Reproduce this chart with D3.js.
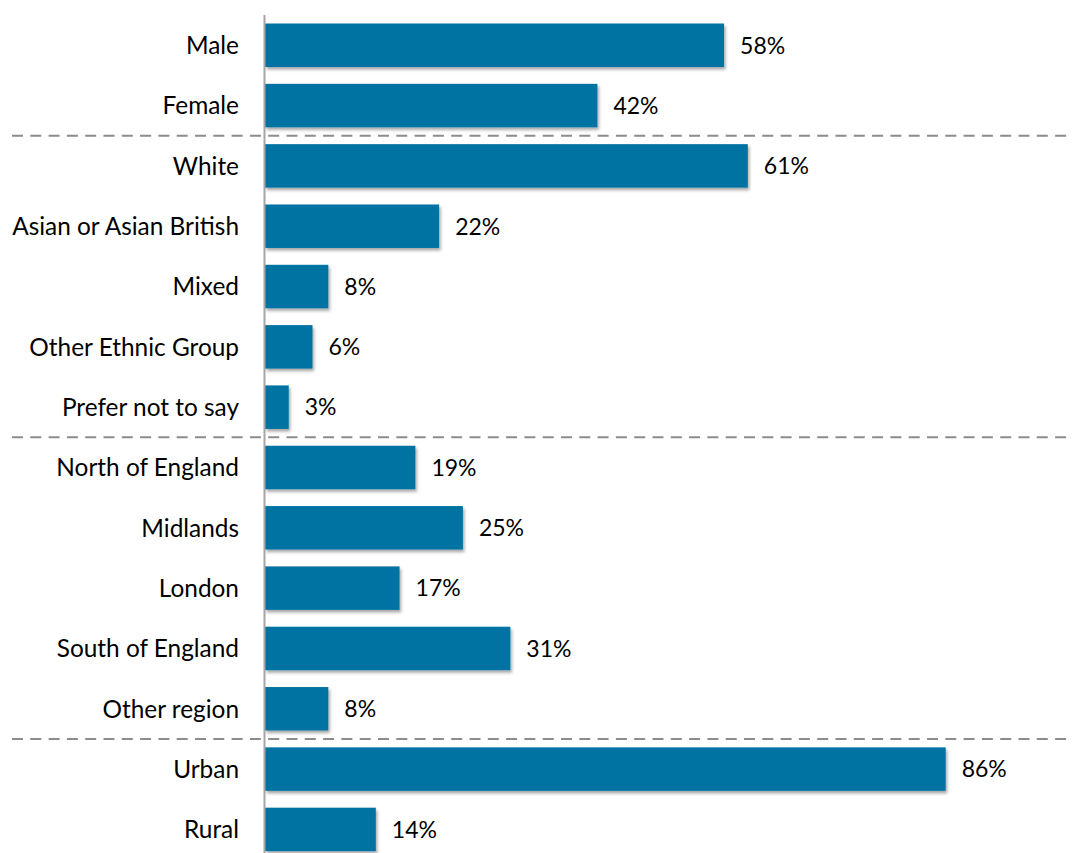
<!DOCTYPE html>
<html>
<head>
<meta charset="utf-8">
<script src="https://cdn.jsdelivr.net/npm/d3@7"></script>
<style>
  html, body { margin: 0; padding: 0; background: #fff; }
  svg { display: block; }
  text { font-family: Lato, "Open Sans", sans-serif; fill: #000; }
</style>
</head>
<body>
<svg id="chart" width="1072" height="853"></svg>
<script>
// Respondent profile: share of respondents in each category (%)
const categories = [
  "Male", "Female",
  "White", "Asian or Asian British", "Mixed", "Other Ethnic Group", "Prefer not to say",
  "North of England", "Midlands", "London", "South of England", "Other region",
  "Urban", "Rural"
];
const values = [58, 42, 61, 22, 8, 6, 3, 19, 25, 17, 31, 8, 86, 14];
// First category of each new group; a dashed separator is drawn above it
const groupStarts = ["White", "North of England", "Urban"];

const width = 1072, height = 853;
const svg = d3.select("#chart");

const x = d3.scaleLinear().domain([0, 100]).range([265, 1056.5]);
const y = d3.scaleBand()
  .domain(categories)
  .range([15.1, 15.1 + 60.32 * categories.length])
  .paddingInner(0.279)
  .paddingOuter(0.1395);

const pad = y.step() * y.paddingInner() / 2;

// soft shadow under each bar
const defs = svg.append("defs");
const f = defs.append("filter").attr("id", "shadow")
  .attr("x", "-5%").attr("y", "-20%").attr("width", "115%").attr("height", "150%");
f.append("feDropShadow")
  .attr("dx", 1.5).attr("dy", 2.5).attr("stdDeviation", 1.6)
  .attr("flood-color", "#000").attr("flood-opacity", 0.35);

// group separators
svg.append("g").selectAll("line")
  .data(groupStarts)
  .join("line")
  .attr("x1", 12).attr("x2", width)
  .attr("y1", d => y(d) - pad).attr("y2", d => y(d) - pad)
  .attr("stroke", "#8c8c8c").attr("stroke-width", 2)
  .attr("stroke-dasharray", "11,7.3");

// bars
svg.append("g").selectAll("rect")
  .data(categories)
  .join("rect")
  .attr("x", x(0))
  .attr("y", d => y(d))
  .attr("width", (d, i) => x(values[i]) - x(0))
  .attr("height", y.bandwidth())
  .attr("fill", "#0073a3")
  .attr("filter", "url(#shadow)");

// value labels
svg.append("g").selectAll("text")
  .data(categories)
  .join("text")
  .attr("x", (d, i) => x(values[i]) + 16)
  .attr("y", d => y(d) + y.bandwidth() / 2)
  .attr("dy", "0.36em")
  .style("font-size", "23px")
  .text((d, i) => values[i] + "%");

// vertical category axis
const axis = svg.append("g").attr("transform", `translate(${x(0) - 0.5},0)`)
  .call(d3.axisLeft(y).tickSize(0).tickPadding(25.5));
axis.select(".domain").attr("stroke", "#a6a6a6").attr("stroke-width", 2)
  .attr("d", `M0,${y.range()[0]}V${height}`);
axis.selectAll(".tick text")
  .attr("dy", "0.36em")
  .style("font-size", "24.4px")
  .style("font-family", "Lato, 'Open Sans', sans-serif")
  .attr("fill", "#000");
</script>
</body>
</html>
